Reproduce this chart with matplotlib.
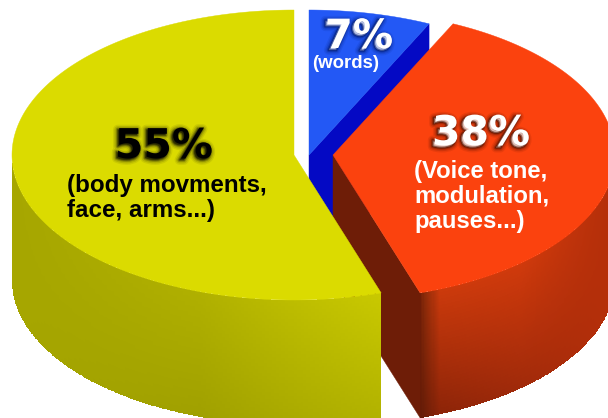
import numpy as np
import matplotlib
matplotlib.use('Agg')
import matplotlib.pyplot as plt
from matplotlib.colors import to_rgb
from matplotlib.patches import Polygon
import matplotlib.patheffects as pe

# Share of each channel, clockwise from twelve o'clock
channels = ['words', 'voice', 'body']
shares = [7, 38, 55]

top_colors = ['#2358f5', '#fb420e', '#dbdb00']
wall_colors = ['#0409c4', '#6e1d07', '#a6a600']

# Pie geometry in pixels
center_y = 155
rx, ry = 282, 145
depth = 125
slice_x = [309, 333, 294]

# Side shading: x position, colour along the rim, colour along the base
yellow_x = [12, 200, 382]
yellow_top = ['#a6a600', '#b0b000', '#c9c900']
yellow_base = ['#a6a600', '#a0a000', '#b2b200']
red_x = [420, 424, 440, 520, 608]
red_top = ['#6e1d07', '#8a2a09', '#cc3a0c', '#d03a0c', '#b52f0a']
red_base = ['#601a06', '#6a1d07', '#8c2408', '#a02a0a', '#b52f0a']

fig = plt.figure(figsize=(6.08, 4.18), dpi=100)
ax = fig.add_axes([0, 0, 1, 1])
ax.set_xlim(0, 608)
ax.set_ylim(418, 0)
ax.axis('off')


def rim(cx, angle):
    a = np.radians(angle)
    return cx + rx * np.sin(a), center_y - ry * np.cos(a)


def top_face(cx, start, end, color, z):
    x, y = rim(cx, np.linspace(start, end, 200))
    pts = np.vstack([[cx, center_y], np.column_stack([x, y])])
    ax.add_patch(Polygon(pts, closed=True, fc=color, ec=color, lw=0.3, zorder=z))


def interp_colors(px, stops_x, stops):
    rgb = np.array([to_rgb(c) for c in stops])
    return np.column_stack([np.interp(px, stops_x, rgb[:, i]) for i in range(3)])


def side_face(cx, start, end, stops_x, top, base, z):
    angles = np.linspace(start, end, 300)
    x, y = rim(cx, angles)
    t = np.linspace(0, 1, 40)
    X = np.tile(x, (len(t), 1))
    Y = y[None, :] + depth * t[:, None]
    mid = (x[:-1] + x[1:]) / 2
    c_top = interp_colors(mid, stops_x, top)
    c_base = interp_colors(mid, stops_x, base)
    tm = ((t[:-1] + t[1:]) / 2)[:, None, None]
    C = c_top[None, :, :] * (1 - tm) + c_base[None, :, :] * tm
    ax.pcolormesh(X, Y, C, shading='flat', antialiased=False, zorder=z)


def wall(cx, angle, color, z):
    x, y = rim(cx, angle)
    pts = [[cx, center_y], [x, y], [x, y + depth], [cx, center_y + depth]]
    ax.add_patch(Polygon(pts, closed=True, fc=color, ec=color, lw=0.3, zorder=z))


# Slice angles come straight from the shares
edges = np.concatenate([[0], np.cumsum(shares)]) * 3.6

# Blue slice sits at the back
wall(slice_x[0], edges[1], wall_colors[0], 1)
top_face(slice_x[0], edges[0], edges[1], top_colors[0], 2)

# Red slice
side_face(slice_x[1], 90, edges[2], red_x, red_top, red_base, 3)
wall(slice_x[1], edges[2], wall_colors[1], 4)
top_face(slice_x[1], edges[1], edges[2], top_colors[1], 5)

# Yellow slice in front
side_face(slice_x[2], edges[2], 270, yellow_x, yellow_top, yellow_base, 6)
top_face(slice_x[2], edges[2], edges[3], top_colors[2], 7)


def soft_shadow(color, dx, dy):
    # stacked translucent strokes stand in for a blurred drop shadow
    layers = []
    for lw, alpha in [(7, 0.10), (5, 0.16), (3, 0.30), (1.5, 0.55)]:
        layers.append(pe.Stroke(linewidth=lw, foreground=color, alpha=alpha, offset=(dx, dy)))
    layers.append(pe.Normal())
    return layers


big = dict(family='DejaVu Sans', weight='bold', ha='center', va='baseline', zorder=10)
small = dict(family='Liberation Sans', weight='bold', ha='left', va='baseline', zorder=10)

ax.text(164, 158, f'{shares[2]}%', color='black', fontsize=29.5,
        path_effects=soft_shadow('#3a3a00', -1, -1), **big)
ax.text(67, 192, '(body movments,', color='black', fontsize=17.4, **small)
ax.text(67, 217, 'face, arms...)', color='black', fontsize=17.4, **small)

ax.text(481, 145, f'{shares[1]}%', color='white', fontsize=29.5,
        path_effects=soft_shadow('#4a1000', -1.5, -1.5), **big)
ax.text(414, 178, '(Voice tone,', color='white', fontsize=17.2, **small)
ax.text(414, 203, 'modulation,', color='white', fontsize=17.2, **small)
ax.text(414, 228, 'pauses...)', color='white', fontsize=17.2, **small)

ax.text(359, 48, f'{shares[0]}%', color='white', fontsize=29,
        path_effects=soft_shadow('#001a70', -1.5, -1.5), **big)
ax.text(312, 68, '(words)', color='white', fontsize=13.4, **small)

fig.savefig('out.png', dpi=100)
